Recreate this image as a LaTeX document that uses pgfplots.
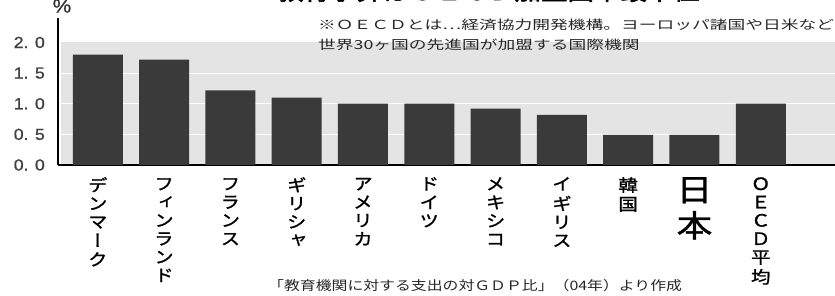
\documentclass[border=0pt]{standalone}
\usepackage{fontspec}
\usepackage{graphicx}
\usepackage{pgfplots}
\usepackage{pgfplotstable}
\pgfplotsset{compat=1.18}
\setmainfont{Liberation Sans}
\newfontfamily\cjkv[RawFeature={+vert}, FakeStretch=1.15, FakeBold=1.2]{Noto Sans CJK JP}
\newfontfamily\cjknote[FakeStretch=1.42]{Noto Sans CJK JP}
\newfontfamily\cjksrc[FakeStretch=1.22]{Noto Sans CJK JP}
\newfontfamily\cjktitle[FakeStretch=1.2, FakeBold=2.5]{Noto Sans CJK JP}
\newfontfamily\numfont[FakeStretch=1.1, FakeBold=1]{Liberation Sans}
\definecolor{barc}{HTML}{3A3A3A}
\definecolor{band}{HTML}{E4E4E4}
\newcommand\VT[1]{\begin{tabular}[t]{@{}c@{}}#1\end{tabular}}

\pgfplotstableread{
x y
0 1.80
1 1.72
2 1.22
3 1.10
4 1.00
5 1.00
6 0.92
7 0.82
8 0.49
9 0.49
10 1.00
}\datatable

\begin{document}
\begin{tikzpicture}
\begin{axis}[
 at={(58pt,131pt)}, anchor=south west, scale only axis,
 width=777pt, height=147pt,
 xmin=-0.6, xmax=11.12, ymin=0, ymax=2.4,
 axis lines*=left, axis line style={line width=2.8pt, black},
 set layers,
 ybar, bar width=50pt,
 xtick={0,...,10}, ytick={0,0.5,1,1.5,2},
 major tick length=0pt,
 yticklabels={0. 0,0. 5,1. 0,1. 5,2. 0},
 yticklabel style={font=\numfont\fontsize{16}{16}\selectfont, anchor=east, inner sep=0pt, xshift=-13pt, text=black!75},
 xticklabel style={font=\cjkv\fontsize{17}{18.3}\selectfont, anchor=north, inner sep=0pt, yshift=-12pt},
 xticklabels={
  {\VT{デ\\ン\\マ\\ー\\ク}},
  {\VT{フ\\ィ\\ン\\ラ\\ン\\ド}},
  {\VT{フ\\ラ\\ン\\ス}},
  {\VT{ギ\\リ\\シ\\ャ}},
  {\VT{ア\\メ\\リ\\カ}},
  {\VT{ド\\イ\\ツ}},
  {\VT{メ\\キ\\シ\\コ}},
  {\VT{イ\\ギ\\リ\\ス}},
  {\VT{韓\\国}},
  {\fontsize{31}{33}\selectfont\VT{日\\本}},
  {\VT{Ｏ\\Ｅ\\Ｃ\\Ｄ\\平\\均}}
 },
 clip=false,
]
\begin{pgfonlayer}{axis background}
\fill[band] (axis cs:-0.55,0) rectangle (axis cs:11.12,2);
\draw[white, line width=1pt] (axis cs:-0.55,0.5) -- (axis cs:11.12,0.5);
\draw[white, line width=1pt] (axis cs:-0.55,1.0) -- (axis cs:11.12,1.0);
\draw[white, line width=1pt] (axis cs:-0.55,1.5) -- (axis cs:11.12,1.5);
\end{pgfonlayer}
\addplot[fill=barc, draw=none] table[x=x, y=y] {\datatable};
\end{axis}
\node[anchor=base west, inner sep=0pt, font=\cjktitle\fontsize{22}{22}\selectfont] at (277pt,296pt) {教育予算はＯＥＣＤ加盟国中最下位};
\node[anchor=center, inner sep=0pt, font=\numfont\fontsize{19}{19}\selectfont, text=black!80] at (62pt,290pt) {\%};
\node[anchor=west, inner sep=0pt, font=\cjknote\fontsize{12.5}{12.5}\selectfont, text=black!85] at (318pt,271pt) {※ＯＥＣＤとは…経済協力開発機構。ヨーロッパ諸国や日米など};
\node[anchor=west, inner sep=0pt, font=\cjknote\fontsize{12.5}{12.5}\selectfont, text=black!85] at (318pt,251pt) {世界30ヶ国の先進国が加盟する国際機関};
\node[anchor=west, inner sep=0pt, font=\cjksrc\fontsize{13}{13}\selectfont, text=black!85] at (268pt,10pt) {「教育機関に対する支出の対ＧＤＰ比」（04年）より作成};
\pgfresetboundingbox
\path[use as bounding box] (0pt,0pt) rectangle (835pt,296pt);
\end{tikzpicture}
\end{document}
